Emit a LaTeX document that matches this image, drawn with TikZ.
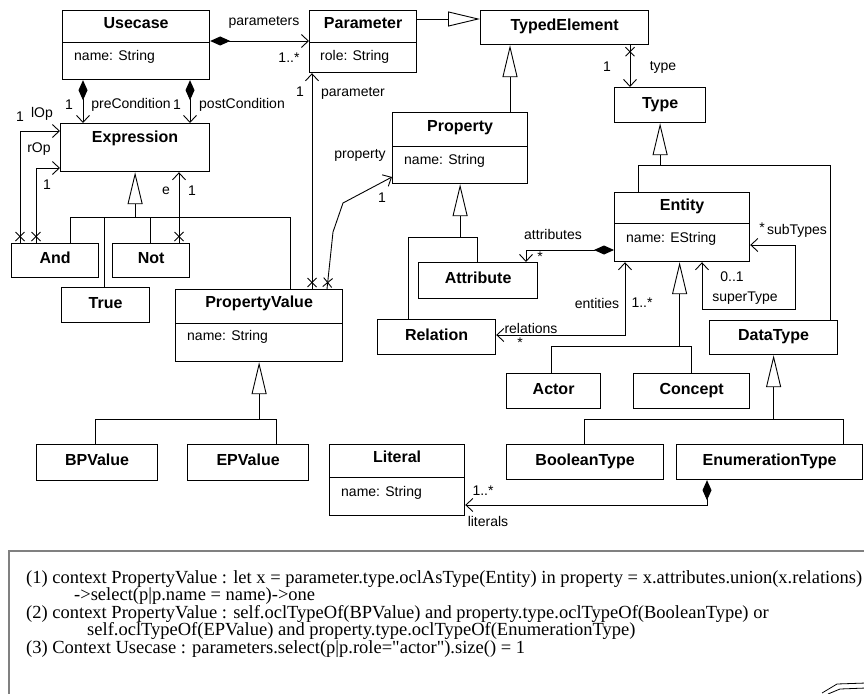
\documentclass[tikz,border=0pt]{standalone}
\usepackage{fontspec}
\setmainfont{Liberation Sans}
\newfontfamily\oclfont{Liberation Serif}
\usepackage{tikz}
\usetikzlibrary{arrows.meta,positioning,decorations.markings}

\begin{document}
\begin{tikzpicture}
      [ x=1pt, y=-1pt,
        cls/.style={draw, line width=1.2pt, anchor=north west, inner sep=0pt,
          text height=11pt, text depth=5pt,
          font=\fontsize{16pt}{18pt}\selectfont\bfseries},
        ttl/.style={inner sep=0pt, text height=11pt, text depth=5pt,
          font=\fontsize{16pt}{18pt}\selectfont\bfseries},
        att/.style={anchor=west, inner sep=0pt, font=\fontsize{14pt}{16pt}\selectfont},
        lbl/.style={inner sep=0pt, font=\fontsize{14pt}{16pt}\selectfont},
        link/.style={line width=0.9pt},
        nav/.style={link, -{Straight Barb[length=7pt,width=13pt]}},
        both/.style={link, {Straight Barb[length=7pt,width=13pt]}-{Straight Barb[length=7pt,width=13pt]}},
        comp/.style={link, {Diamond[length=20pt,width=9pt]}-{Straight Barb[length=7pt,width=13pt]}},
        gen/.style={link, -{Triangle[open,length=32pt,width=15pt]}},
        xend/.style={postaction={decorate, decoration={markings,
          mark=at position 6.5pt with {\draw[-, line width=0.9pt] (-4.5,-4.5) -- (4.5,4.5) (-4.5,4.5) -- (4.5,-4.5);}}}}
      ]
      \useasboundingbox (0,0) rectangle (864,693);

      % classes with attributes
      \node[cls, minimum width=147pt, minimum height=69pt] (usecase) at (62,10) {};
      \node[ttl] (usecaseT) at ([yshift=-16pt]usecase.north) {Usecase};
      \node[att] (usecaseA) at ([xshift=12pt,yshift=-47pt]usecase.north west) {name: String};
      \draw ([yshift=-32pt]usecase.north west) -- ([yshift=-32pt]usecase.north east);

      \node[cls, minimum width=107pt, minimum height=62pt] (parameter) at (309,10) {};
      \node[ttl] (parameterT) at ([yshift=-16pt]parameter.north) {Parameter};
      \node[att] (parameterA) at ([xshift=11pt,yshift=-47pt]parameter.north west) {role: String};
      \draw ([yshift=-32pt]parameter.north west) -- ([yshift=-32pt]parameter.north east);

      \node[cls, minimum width=135pt, minimum height=71pt] (property) at (392,112) {};
      \node[ttl] (propertyT) at ([yshift=-16pt]property.north) {Property};
      \node[att] (propertyA) at ([xshift=12pt,yshift=-49pt]property.north west) {name: String};
      \draw ([yshift=-34pt]property.north west) -- ([yshift=-34pt]property.north east);

      \node[cls, minimum width=135pt, minimum height=69pt] (entity) at (614,192) {};
      \node[ttl] (entityT) at ([yshift=-15pt]entity.north) {Entity};
      \node[att] (entityA) at ([xshift=12pt,yshift=-47pt]entity.north west) {name: EString};
      \draw ([yshift=-31pt]entity.north west) -- ([yshift=-31pt]entity.north east);

      \node[cls, minimum width=167pt, minimum height=72pt] (propvalue) at (175,289) {};
      \node[ttl] (propvalueT) at ([yshift=-15pt]propvalue.north) {PropertyValue};
      \node[att] (propvalueA) at ([xshift=12pt,yshift=-48pt]propvalue.north west) {name: String};
      \draw ([yshift=-34pt]propvalue.north west) -- ([yshift=-34pt]propvalue.north east);

      \node[cls, minimum width=135pt, minimum height=71pt] (literal) at (329,444) {};
      \node[ttl] (literalT) at ([yshift=-15pt]literal.north) {Literal};
      \node[att] (literalA) at ([xshift=12pt,yshift=-49pt]literal.north west) {name: String};
      \draw ([yshift=-33pt]literal.north west) -- ([yshift=-33pt]literal.north east);

      \node[cls, minimum width=149pt, minimum height=48pt] (expression) at (60,123) {};
      \node[ttl] (expressionT) at ([yshift=-16pt]expression.north) {Expression};

      % plain classes
      \node[cls, minimum width=168pt, minimum height=34pt] (typedelem) at (480,10)  {TypedElement};
      \node[cls, minimum width=91pt,  minimum height=35pt] (typebox)   at (614,87)  {Type};
      \node[cls, minimum width=87pt,  minimum height=34pt] (andbox)    at (11,243)  {And};
      \node[cls, minimum width=77pt,  minimum height=34pt] (notbox)    at (112,243) {Not};
      \node[cls, minimum width=88pt,  minimum height=35pt] (truebox)   at (61,287)  {True};
      \node[cls, minimum width=119pt, minimum height=36pt] (attribute) at (418,262) {Attribute};
      \node[cls, minimum width=118pt, minimum height=35pt] (relation)  at (377,319) {Relation};
      \node[cls, minimum width=128pt, minimum height=34pt] (datatype)  at (709,320) {DataType};
      \node[cls, minimum width=94pt,  minimum height=35pt] (actor)     at (506,373) {Actor};
      \node[cls, minimum width=116pt, minimum height=35pt] (concept)   at (633,373) {Concept};
      \node[cls, minimum width=121pt, minimum height=36pt] (bpvalue)   at (36,444)  {BPValue};
      \node[cls, minimum width=121pt, minimum height=36pt] (epvalue)   at (187,444) {EPValue};
      \node[cls, minimum width=157pt, minimum height=35pt] (booltype)  at (506,444) {BooleanType};
      \node[cls, minimum width=186pt, minimum height=35pt] (enumtype)  at (676,444) {EnumerationType};

      % associations
      \draw[comp] ([yshift=-31pt]usecase.north east) -- ([yshift=-31pt]parameter.north west);
      \draw[comp] ([xshift=21pt]usecase.south west) -- ([xshift=23pt]expression.north west);
      \draw[comp] ([xshift=128pt]usecase.south west) -- ([xshift=130pt]expression.north west);
      \draw[nav, xend] ([xshift=9pt]andbox.north west) |- ([yshift=-8pt]expression.north west);
      \draw[nav, xend] ([xshift=25pt]andbox.north west) |- ([yshift=-45pt]expression.north west);
      \draw[nav, xend] ([xshift=67pt]notbox.north west) -- ([xshift=119pt]expression.south west);
      \draw[nav, xend] ([xshift=137pt]propvalue.north west) -- ([xshift=3pt]parameter.south west);
      \draw[nav, xend] ([xshift=152pt]propvalue.north west) -- ++(6,-57) -- ++(10,-29)
                       -- ([yshift=-65pt]property.north west);
      \draw[nav, xend] ([xshift=150pt]typedelem.south west) -- ([xshift=16pt]typebox.north west);
      \draw[comp] ([yshift=-58pt]entity.north west) -| ([xshift=108pt]attribute.north west);
      \draw[both] ([yshift=-16pt]relation.north east) -| ([xshift=11pt]entity.south west);
      \draw[both] ([xshift=88pt]entity.south west) -- ++(0,47)
                  -| ([xshift=45pt,yshift=-53pt]entity.north east) -- ([yshift=-53pt]entity.north east);
      \draw[comp] ([xshift=31pt]enumtype.south west) |- ([yshift=-61pt]literal.north east);

      % generalizations
      \draw[gen] ([yshift=-9pt]parameter.north east) -- ([yshift=-9pt]typedelem.north west);
      \draw[gen] ([xshift=118pt]property.north west) -- ([xshift=30pt]typedelem.south west);

      \coordinate (exbar) at ([yshift=-45pt]expression.south);
      \draw[gen] (exbar) -- (expression.south);
      \draw[link] ([xshift=59pt]andbox.north west) |- (exbar);
      \draw[link] ([xshift=43pt]truebox.north west) |- (exbar);
      \draw[link] ([xshift=38pt]notbox.north west) |- (exbar);
      \draw[link] ([xshift=115pt]propvalue.north west) |- (exbar);

      \coordinate (pvbar) at ([yshift=-57pt]propvalue.south);
      \draw[gen] (pvbar) -- (propvalue.south);
      \draw[link] ([xshift=59pt]bpvalue.north west) |- (pvbar);
      \draw[link] ([xshift=89pt]epvalue.north west) |- (pvbar);

      \coordinate (prbar) at ([yshift=-53pt]property.south);
      \draw[gen] (prbar) -- (property.south);
      \draw[link] ([xshift=59pt]attribute.north west) |- (prbar);
      \draw[link] ([xshift=31pt]relation.north west) |- (prbar);

      \coordinate (tybar) at ([yshift=-42pt]typebox.south);
      \draw[gen] (tybar) -- (typebox.south);
      \draw[link] ([xshift=24pt]entity.north west) |- (tybar);
      \draw[link] ([xshift=121pt]datatype.north west) |- (tybar);

      \coordinate (enbar) at ([xshift=-2.5pt,yshift=-84pt]entity.south);
      \draw[gen] (enbar) -- (enbar |- entity.south);
      \draw[link] ([xshift=45pt]actor.north west) |- (enbar);
      \draw[link] ([xshift=58pt]concept.north west) |- (enbar);

      \coordinate (dtbar) at ([yshift=-64pt]datatype.south);
      \draw[gen] (dtbar) -- (datatype.south);
      \draw[link] ([xshift=78pt]booltype.north west) |- (dtbar);
      \draw[link] ([xshift=167pt]enumtype.north west) |- (dtbar);

      % role names and multiplicities
      \node[lbl] (lparams)   at (264,22)  {parameters};
      \node[lbl] (lparamsM)  at (289,58)  {1..*};
      \node[lbl] (lpreM)     at (69,105)  {1};
      \node[lbl] (lpre)      at (131,105) {preCondition};
      \node[lbl] (lpostM)    at (177,105) {1};
      \node[lbl] (lpost)     at (242,105) {postCondition};
      \node[lbl] (llopM)     at (20,117)  {1};
      \node[lbl] (llop)      at (42,114)  {lOp};
      \node[lbl] (lrop)      at (39,149)  {rOp};
      \node[lbl] (lropM)     at (47,185)  {1};
      \node[lbl] (le)        at (166,191) {e};
      \node[lbl] (leM)       at (192,191) {1};
      \node[lbl] (lparamM)   at (300,92)  {1};
      \node[lbl] (lparam)    at (353,93)  {parameter};
      \node[lbl] (lprop)     at (360,155) {property};
      \node[lbl] (lpropM)    at (382,198) {1};
      \node[lbl] (ltypeM)    at (607,67)  {1};
      \node[lbl] (ltype)     at (663,67)  {type};
      \node[lbl] (lattr)     at (553,234) {attributes};
      \node[lbl] (lattrM)    at (540,257) {*};
      \node[lbl] (lrel)      at (531,328) {relations};
      \node[lbl] (lrelM)     at (520,343) {*};
      \node[lbl] (lent)      at (597,303) {entities};
      \node[lbl] (lentM)     at (642,303) {1..*};
      \node[lbl] (lsuperM)   at (732,277) {0..1};
      \node[lbl] (lsuper)    at (745,298) {superType};
      \node[lbl] (lsubM)     at (762,228) {*};
      \node[lbl] (lsub)      at (797,231) {subTypes};
      \node[lbl] (llitM)     at (483,491) {1..*};
      \node[lbl] (llit)      at (488,521) {literals};

      % constraints
      \node[draw=gray, line width=1.5pt, anchor=north west, inner sep=0pt,
            minimum width=900pt, minimum height=200pt] (oclbox) at (8,550) {};
      \node[anchor=north west, inner sep=0pt, align=left,
            font=\oclfont\fontsize{18.5pt}{17.5pt}\selectfont] (ocl)
            at ([xshift=18pt,yshift=-20pt]oclbox.north west)
            {(1) context PropertyValue : let x = parameter.type.oclAsType(Entity) in property = x.attributes.union(x.relations)\\
             \hspace*{48pt}->select(p|p.name = name)->one\\
             (2) context PropertyValue : self.oclTypeOf(BPValue) and property.type.oclTypeOf(BooleanType) or\\
             \hspace*{61pt}self.oclTypeOf(EPValue) and property.type.oclTypeOf(EnumerationType)\\
             (3) Context Usecase : parameters.select(p|p.role="actor").size() = 1};
      \draw[line width=0.8pt] (822,693) -- (837,684) -- (866,683) (828,694) -- (840,689) -- (866,688);
    \end{tikzpicture}
\end{document}
